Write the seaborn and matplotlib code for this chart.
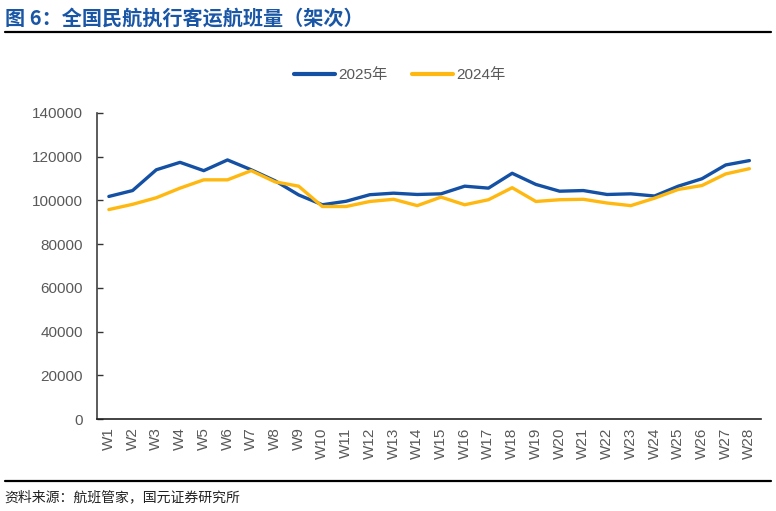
import pandas as pd
import matplotlib.pyplot as plt
import matplotlib.lines as mlines
import seaborn as sns

# weekly passenger flights (2025 vs 2024)
weeks = [f'W{i}' for i in range(1, 29)]
flights_2025 = [101800, 104500, 114000, 117400, 113600, 118500, 114000, 109000,
                102500, 98000, 99600, 102600, 103300, 102700, 103000, 106500,
                105600, 112400, 107300, 104200, 104500, 102700, 103000, 102000,
                106500, 109900, 116200, 118200]
flights_2024 = [95800, 98200, 101200, 105600, 109400, 109400, 113600, 108500,
                106500, 97200, 97200, 99500, 100500, 97600, 101500, 98000,
                100300, 105800, 99500, 100300, 100500, 98800, 97600, 101000,
                105000, 106800, 112100, 114500]
series_names = ['2025年', '2024年']
yticks = [0, 20000, 40000, 60000, 80000, 100000, 120000, 140000]

df = pd.DataFrame({
    'week': weeks * 2,
    'year': [series_names[0]] * len(weeks) + [series_names[1]] * len(weeks),
    'flights': flights_2025 + flights_2024,
})

sns.set_style('white')
plt.rcParams['font.family'] = ['Liberation Sans', 'Noto Sans CJK SC', 'DejaVu Sans']

colors = {'2025年': '#1450a3', '2024年': '#ffb80f'}
gray = '#595959'

fig = plt.figure(figsize=(7.76, 5.11), dpi=100)
ax = fig.add_axes([0.125, 0.180, 0.856, 0.599])

sns.lineplot(data=df, x='week', y='flights', hue='year', palette=colors,
             linewidth=2.4, ax=ax, legend=False, sort=False,
             solid_joinstyle='round', solid_capstyle='round')

# axes styling
ax.set_xlim(-0.5, len(weeks) - 0.5)
ax.set_ylim(0, 140000)
ax.set_yticks(yticks)
ax.set_yticklabels([str(v) for v in yticks])
ax.set_xlabel('')
ax.set_ylabel('')
ax.set_xticks(range(len(weeks)))
ax.set_xticklabels(weeks, rotation=90)
ax.set_xticks([i + 0.5 for i in range(len(weeks))], minor=True)
ax.tick_params(axis='x', which='major', length=0, labelsize=11, labelcolor=gray, pad=6)
ax.tick_params(axis='x', which='minor', direction='in', length=4, width=1, color='#222222')
ax.tick_params(axis='y', direction='in', length=4, width=1, color='#333333',
               labelsize=11, labelcolor=gray, pad=10, left=True)
for s in ['top', 'right']:
    ax.spines[s].set_visible(False)
ax.spines['left'].set_color('#404040')
ax.spines['bottom'].set_color('#222222')
ax.spines['left'].set_linewidth(1.2)
ax.spines['bottom'].set_linewidth(1.2)
ax.grid(False)

# legend
handles = [mlines.Line2D([], [], color=colors[n], linewidth=3) for n in series_names]
fig.legend(handles, series_names, loc='center', bbox_to_anchor=(0.515, 0.853),
           ncol=2, frameon=False, fontsize=11, labelcolor=gray,
           handlelength=2.7, handletextpad=0.2, columnspacing=1.6)

# title, rules, source
fig.text(0.006, 0.985, '图 6：全国民航执行客运航班量（架次）', ha='left', va='top',
         fontsize=14.5, fontweight='bold', color='#1a56a6',
         family=['Noto Sans CJK SC', 'DejaVu Sans'])
fig.add_artist(mlines.Line2D([0.006, 0.993], [0.938, 0.938], color='black', linewidth=1.6))
fig.add_artist(mlines.Line2D([0.006, 0.993], [0.0587, 0.0587], color='black', linewidth=1.6))
fig.text(0.006, 0.027, '资料来源：航班管家，国元证券研究所', ha='left', va='center',
         fontsize=10, color='#222222', family=['Noto Sans CJK SC', 'DejaVu Sans'])

fig.savefig('out.png', dpi=100)
